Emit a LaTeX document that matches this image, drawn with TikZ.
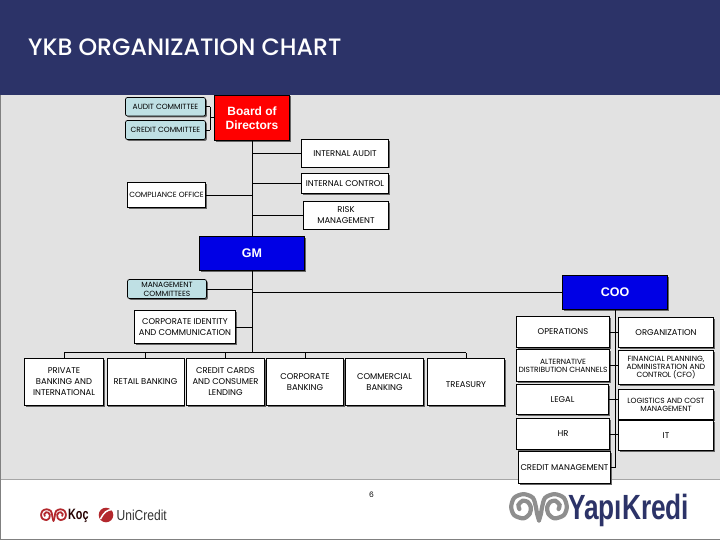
\documentclass[tikz,border=0pt]{standalone}
\usepackage{fontspec}
\usepackage{tikz}
\usetikzlibrary{shadows}
\setmainfont{Poppins}
\newfontfamily\titlefont{Poppins Medium}
\newfontfamily\logofont{Liberation Sans}
\definecolor{headnavy}{HTML}{2C3368}
\definecolor{pagegray}{HTML}{E2E2E2}
\definecolor{commblue}{HTML}{BFE0E4}
\definecolor{swirlgray}{HTML}{8E8E8E}
\definecolor{kocred}{HTML}{B3282D}
\tikzset{
  unit/.style={draw=black, line width=.7pt, fill=white, align=center, inner sep=0pt, text=black,
    font=\fontsize{8.4}{11}\selectfont,
    drop shadow={shadow xshift=1.4pt, shadow yshift=-1.4pt, fill=gray!80!black, opacity=1}},
  comm/.style={unit, fill=commblue, rounded corners=2pt, font=\fontsize{7.5}{9}\selectfont},
  chief/.style={unit, fill=blue!90!black, text=white, font=\logofont\bfseries\fontsize{12.5}{14}\selectfont},
  tight/.style={font=\fontsize{7.5}{8}\selectfont},
  link/.style={draw=black, line width=.7pt},
  pics/swirl/.style={code={
    \foreach \m in {1,-1}
      \draw[xscale=\m, line cap=round] plot[smooth] coordinates {(0,13) (-2,6) (-3,0) (-6,-9) (-15,-12.5) (-24,-9) (-27,0) (-24,8) (-15,11) (-9,6.5) (-8,0) (-11,-5) (-16,-6) (-20,-2) (-19,2)};
  }}
}
\begin{document}
\begin{tikzpicture}[x=1pt,y=-1pt]
  \useasboundingbox (0,0) rectangle (720,540);
  \fill[white] (0,0) rectangle (720,540);
  \fill[pagegray] (0,95) rectangle (720,479.5);
  \fill[headnavy] (0,0) rectangle (720,95);
  \draw[gray!70, line width=.8pt] (0,479.5) -- (720,479.5);
  \draw[gray, line width=1pt] (.5,95) -- (.5,539.5) -- (720,539.5);
  \node (title) [anchor=west, inner sep=0pt, text=white, font=\titlefont\fontsize{23.7}{26}\selectfont] at (28,47) {YKB ORGANIZATION CHART};

  \node (audit) [comm, minimum width=80pt, minimum height=18.5pt] at (165.5,106.75) {AUDIT COMMITTEE};
  \node (credit) [comm, minimum width=80pt, minimum height=19pt] at (165.5,130) {CREDIT COMMITTEE};
  \node (board) [chief, fill=red, font=\logofont\bfseries\fontsize{12}{14}\selectfont, minimum width=75pt, minimum height=45.5pt] at (252,117.75) {Board of\\Directors};
  \node (iaudit) [unit, minimum width=87pt, minimum height=27.5pt] at (345,153.25) {INTERNAL AUDIT};
  \node (icontrol) [unit, minimum width=87pt, minimum height=20pt] at (345,183.5) {INTERNAL CONTROL};
  \node (compliance) [unit, tight, minimum width=78pt, minimum height=25pt] at (166.5,195) {COMPLIANCE OFFICE};
  \node (risk) [unit, minimum width=85pt, minimum height=27.5pt] at (346,215.25) {RISK\\MANAGEMENT};
  \node (gm) [chief, minimum width=105pt, minimum height=34pt] at (252,253.5) {GM};
  \node (mgmt) [comm, minimum width=79pt, minimum height=19pt] at (167,289) {MANAGEMENT\\COMMITTEES};
  \node (corpid) [unit, minimum width=101pt, minimum height=33pt] at (185,327) {CORPORATE IDENTITY\\AND COMMUNICATION};

  \node (private) [unit, minimum width=79pt, minimum height=47pt] at (64,382) {PRIVATE\\BANKING AND\\INTERNATIONAL};
  \node (retail) [unit, minimum width=77pt, minimum height=47pt] at (145.5,382) {RETAIL BANKING};
  \node (cards) [unit, minimum width=78pt, minimum height=47pt] at (225.5,382) {CREDIT CARDS\\AND CONSUMER\\LENDING};
  \node (corporate) [unit, minimum width=77pt, minimum height=47pt] at (305,382) {CORPORATE\\BANKING};
  \node (commercial) [unit, minimum width=78pt, minimum height=47pt] at (384.5,382) {COMMERCIAL\\BANKING};
  \node (treasury) [unit, minimum width=77pt, minimum height=47pt] at (466,382) {\mbox{}\\TREASURY};

  \node (coo) [chief, minimum width=105pt, minimum height=34pt] at (615,292.5) {COO};
  \node (ops) [unit, minimum width=93pt, minimum height=31pt] at (563,332) {OPERATIONS};
  \node (alt) [unit, tight, minimum width=93pt, minimum height=32pt] at (563,365.5) {ALTERNATIVE\\DISTRIBUTION CHANNELS};
  \node (legal) [unit, minimum width=92pt, minimum height=30pt] at (562.5,399.5) {LEGAL};
  \node (hr) [unit, minimum width=93pt, minimum height=31pt] at (563,434) {HR};
  \node (cmgmt) [unit, minimum width=92pt, minimum height=32pt] at (564.5,467.5) {CREDIT MANAGEMENT};
  \node (org) [unit, minimum width=95pt, minimum height=30pt] at (666,332.5) {ORGANIZATION};
  \node (fin) [unit, tight, minimum width=95pt, minimum height=34pt] at (666,367.5) {FINANCIAL PLANNING,\\ADMINISTRATION AND\\CONTROL (CFO)};
  \node (log) [unit, tight, minimum width=95pt, minimum height=30pt] at (666,404.5) {LOGISTICS AND COST\\MANAGEMENT};
  \node (it) [unit, minimum width=95pt, minimum height=30pt] at (666,435.5) {IT};

  \coordinate (bus) at (252,352.5);
  \coordinate (join) at (210,117.5);
  \coordinate (cooend) at (coo.south |- cmgmt.east);

  \path[link]
  (board) edge (gm)
  (gm) edge (bus)
  (audit.east) edge (audit.east -| join)
  (credit.east) edge (credit.east -| join)
  (audit.east -| join) edge (credit.east -| join)
  (join) edge (join -| board.west)
  (iaudit.west) edge (iaudit.west -| board.south)
  (icontrol.west) edge (icontrol.west -| board.south)
  (compliance.east) edge (compliance.east -| board.south)
  (risk.west) edge (risk.west -| board.south)
  (mgmt.east) edge (mgmt.east -| gm.south)
  (corpid.east) edge (corpid.east -| gm.south)
  (coo.west) edge (coo.west -| gm.south)
  (private.north) edge (private.north |- bus)
  (retail.north) edge (retail.north |- bus)
  (cards.north) edge (cards.north |- bus)
  (corporate.north) edge (corporate.north |- bus)
  (treasury.north) edge (treasury.north |- bus)
  (private.north |- bus) edge (treasury.north |- bus)
  (coo.south) edge (cooend)
  (cmgmt.east) edge (cooend)
  (ops.east) edge (org.west |- ops.east)
  (alt.east) edge (fin.west |- alt.east)
  (legal.east) edge (log.west |- legal.east)
  (hr.east) edge (it.west |- hr.east)
  ;

  \node (pageno) [font=\fontsize{7.5}{9}\selectfont] at (371.5,495) {6};
  \path (53.5,515) pic[scale=.46, color=kocred, line width=1.8pt] {swirl};
  \node (koc) [anchor=west, inner sep=0pt, xscale=.72, text=black!85!red, font=\logofont\bfseries\fontsize{15}{17}\selectfont] at (68,516) {Koç};
  \fill[kocred] (106,515) circle (7.3pt);
  \draw[white, line width=1.5pt] (100.5,519) .. controls (104,512) and (107,510) .. (112,509.5);
  \node (unicredit) [anchor=west, inner sep=0pt, xscale=.83, text=black!80, font=\logofont\fontsize{14.5}{17}\selectfont] at (116.5,515.5) {UniCredit};
  \path (539,507) pic[scale=1.03, color=swirlgray, line width=4.2pt] {swirl};
  \node (yapikredi) [anchor=west, inner sep=0pt, xscale=.75, text=headnavy, font=\logofont\bfseries\fontsize{35}{40}\selectfont] at (568,510) {YapıKredi};
\end{tikzpicture}
\end{document}
